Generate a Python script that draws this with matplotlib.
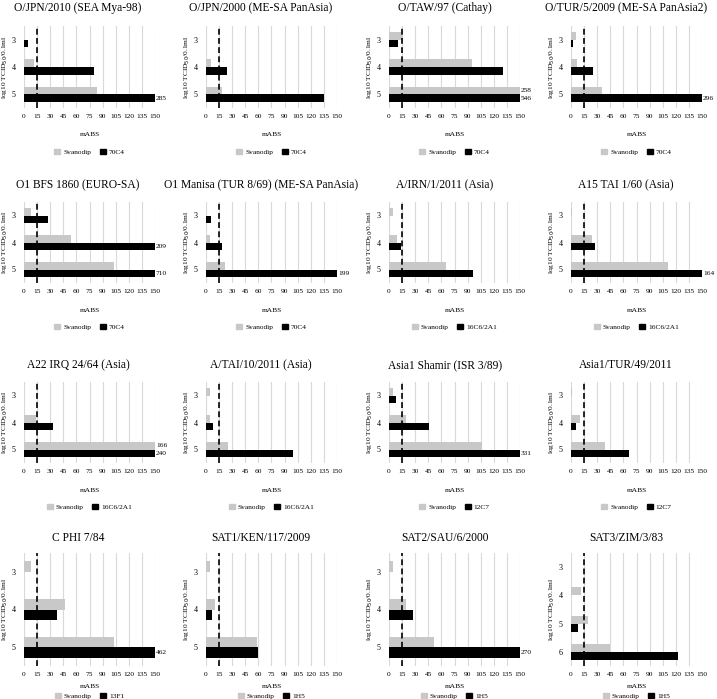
import matplotlib
matplotlib.use('Agg')
import matplotlib.pyplot as plt
from matplotlib.patches import Patch

plt.rcParams['font.family'] = ['Liberation Serif', 'DejaVu Serif']

# ---------------- data ----------------
titles = [
    "O/JPN/2010 (SEA Mya-98)", "O/JPN/2000 (ME-SA PanAsia)", "O/TAW/97 (Cathay)", "O/TUR/5/2009 (ME-SA PanAsia2)",
    "O1 BFS 1860 (EURO-SA)", "O1 Manisa (TUR 8/69) (ME-SA PanAsia)", "A/IRN/1/2011 (Asia)", "A15 TAI 1/60 (Asia)",
    "A22 IRQ 24/64 (Asia)", "A/TAI/10/2011 (Asia)", "Asia1 Shamir (ISR 3/89)", "Asia1/TUR/49/2011",
    "C PHI 7/84", "SAT1/KEN/117/2009", "SAT2/SAU/6/2000", "SAT3/ZIM/3/83",
]
antibodies = [
    "70C4", "70C4", "70C4", "70C4",
    "70C4", "70C4", "16C6/2A1", "16C6/2A1",
    "16C6/2A1", "16C6/2A1", "12C7", "12C7",
    "13F1", "1H5", "1H5", "1H5",
]
levels = [
    [3, 4, 5], [3, 4, 5], [3, 4, 5], [3, 4, 5],
    [3, 4, 5], [3, 4, 5], [3, 4, 5], [3, 4, 5],
    [3, 4, 5], [3, 4, 5], [3, 4, 5], [3, 4, 5],
    [3, 4, 5], [3, 4, 5], [3, 4, 5], [3, 4, 5, 6],
]
svanodip = [
    [0, 12, 84], [0, 6, 18], [15.5, 95, 258], [5.7, 6.5, 36],
    [8, 54, 103], [0, 4.6, 21.5], [5, 9.5, 65], [1, 23.5, 111],
    [0, 14, 166], [4.2, 4.6, 25.5], [4.2, 19, 106], [0.8, 10, 39],
    [8, 47, 103], [5, 10, 58], [5, 20, 52], [0, 12, 20, 45],
]
mab_values = [
    [5, 80, 285], [0, 24.5, 135], [10.7, 130, 546], [2.3, 25, 296],
    [27, 209, 710], [5.7, 18.7, 199], [0, 13.4, 96], [0, 28, 164],
    [0, 33, 240], [0, 7.7, 99.5], [8, 46, 331], [0, 5.7, 66],
    [0, 38, 462], [0, 7, 60], [0, 27, 270], [0, 0, 8, 122],
]
xticks = [0, 15, 30, 45, 60, 75, 90, 105, 120, 135, 150]
xmax = 150
cutoff = 15

# ---------------- layout (pixels) ----------------
W, H = 717, 699
fig = plt.figure(figsize=(W / 100, H / 100), dpi=100)

col_left = [24, 206, 389, 571]
col_w = 131
title_cx = [78, 261, 445, 626]
rows = [  # (title_y, ax_top, ax_bottom, tick_y, xlabel_y, legend_y)
    (8, 26, 108, 119, 135, 152),
    (185, 202, 283, 294, 310, 327),
    (365, 382, 463, 474, 490, 507),
    (538, 553, 666, 677, 687, 696),
]

GRAY = '#c8c8c8'
SMALL = 5.3


def fx(px):
    return px / W


def fy(py):
    return 1 - py / H


for i in range(16):
    r, c = divmod(i, 4)
    ty, top, bot, tky, xly, lgy = rows[r]
    left = col_left[c]
    ax = fig.add_axes([fx(left), fy(bot), col_w / W, (bot - top) / H])
    lv = levels[i]
    n = len(lv)
    h = 0.28
    ypos = list(range(n))
    sv = svanodip[i]
    mv = mab_values[i]
    sv_draw = [min(v, xmax) for v in sv]
    mv_draw = [min(v, xmax) for v in mv]
    ax.barh([y - h / 2 for y in ypos], sv_draw, height=h, color=GRAY, zorder=3)
    ax.barh([y + h / 2 for y in ypos], mv_draw, height=h, color='black', zorder=3)
    for y, v in zip(ypos, sv):
        if v > xmax:
            ax.text(xmax + 1, y - h / 2, f"{v:g}", fontsize=SMALL, va='center', ha='left', clip_on=False)
    for y, v in zip(ypos, mv):
        if v > xmax:
            ax.text(xmax + 1, y + h / 2, f"{v:g}", fontsize=SMALL, va='center', ha='left', clip_on=False)
    ax.axvline(cutoff, color='black', lw=1.2, ls=(0, (3.5, 2)), zorder=4)
    ax.set_xlim(0, xmax)
    ax.set_ylim(n - 0.5, -0.5)
    ax.set_yticks(ypos)
    ax.set_yticklabels([str(v) for v in lv], fontsize=SMALL + 0.5)
    ax.set_xticks(xticks)
    ax.set_xticklabels([str(t) for t in xticks], fontsize=SMALL)
    ax.tick_params(length=0, pad=4)
    ax.tick_params(axis='y', pad=6)
    ax.grid(axis='x', color='#d9d9d9', lw=0.8, zorder=0)
    for s in ax.spines.values():
        s.set_visible(False)
    ax.set_axisbelow(True)
    cx = left + col_w / 2
    fig.text(fx(title_cx[c]), fy(ty), titles[i], fontsize=8.3, ha='center', va='center')
    fig.text(fx(cx), fy(xly), "mABS", fontsize=SMALL, ha='center', va='center')
    fig.text(fx(left - 19), fy((top + bot) / 2), r"log10 TCID$_{50}$/0.1ml", fontsize=SMALL,
             rotation=90, ha='center', va='center')
    handles = [Patch(color=GRAY, label='Svanodip'), Patch(color='black', label=antibodies[i])]
    fig.legend(handles=handles, loc='center', bbox_to_anchor=(fx(cx), fy(lgy)), ncol=2, frameon=False,
               fontsize=SMALL, handlelength=0.8, handleheight=0.8, handletextpad=0.4, columnspacing=1.2,
               borderaxespad=0, borderpad=0)

fig.savefig('out.png', dpi=100)
